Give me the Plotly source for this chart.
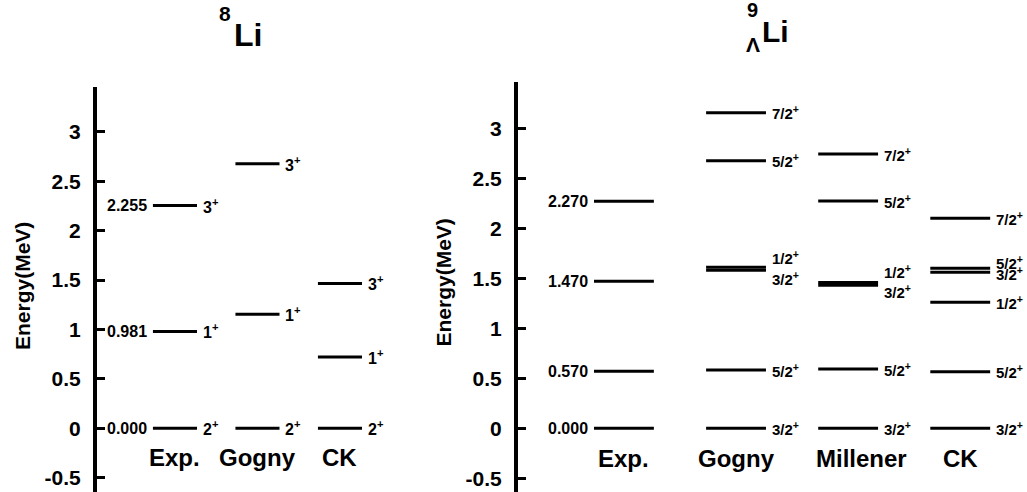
import plotly.graph_objects as go

# ---------------- data: 8Li ----------------
li8_columns = ["Exp.", "Gogny", "CK"]
li8_exp_energy = [0.000, 0.981, 2.255]
li8_exp_values = ["0.000", "0.981", "2.255"]
li8_exp_spin = ["2", "1", "3"]
li8_gogny_energy = [0.000, 1.155, 2.678]
li8_gogny_spin = ["2", "1", "3"]
li8_ck_energy = [0.000, 0.722, 1.466]
li8_ck_spin = ["2", "1", "3"]

# ---------------- data: 9ΛLi ----------------
li9_columns = ["Exp.", "Gogny", "Millener", "CK"]
li9_exp_energy = [0.000, 0.570, 1.470, 2.270]
li9_exp_values = ["0.000", "0.570", "1.470", "2.270"]
li9_gogny_energy = [0.000, 0.583, 1.580, 1.610, 2.676, 3.156]
li9_gogny_spin = ["3/2", "5/2", "3/2", "1/2", "5/2", "7/2"]
li9_millener_energy = [0.000, 0.593, 1.430, 1.458, 2.273, 2.743]
li9_millener_spin = ["3/2", "5/2", "3/2", "1/2", "5/2", "7/2"]
li9_ck_energy = [0.000, 0.566, 1.260, 1.560, 1.600, 2.100]
li9_ck_spin = ["3/2", "5/2", "1/2", "3/2", "5/2", "7/2"]

y_tick_values = [-0.5, 0, 0.5, 1, 1.5, 2, 2.5, 3]
y_tick_labels = ["-0.5", "0", "0.5", "1", "1.5", "2", "2.5", "3"]

# ---------------- style ----------------
W, H = 1027, 492
FONT = "Liberation Sans, Arial, Helvetica, sans-serif"
HALF = 0.267          # half length of a level line (column units)
LINE_W = 3
PAIR_NUDGE = {"Gogny": (10, -8), "Millener": (11, -6), "CK": (6, -1)}
CAT_XSHIFT = {"Millener": 13}


def px_x(px):
    return px / W


def px_y(py):
    return 1 - py / H


fig = go.Figure()
annotations = []


def add_panel(xr, yr, columns, levels, exp_values, spin_size, jp_shift):
    """levels: list of (energies, spins or None) per column"""
    for i, (energies, spins) in enumerate(levels):
        xs, ys = [], []
        for e in energies:
            xs += [i - HALF, i + HALF, None]
            ys += [e, e, None]
        fig.add_trace(go.Scatter(x=xs, y=ys, mode="lines", xaxis=xr, yaxis=yr,
                                 line=dict(color="black", width=LINE_W),
                                 hoverinfo="skip", showlegend=False))
        if spins is not None:
            for k, (e, s) in enumerate(zip(energies, spins)):
                shift = jp_shift
                above = [o for j, o in enumerate(energies) if j != k and 0 < o - e < 0.06]
                below = [o for j, o in enumerate(energies) if j != k and 0 < e - o < 0.06]
                if above:
                    shift += PAIR_NUDGE[columns[i]][1]
                elif below:
                    shift += PAIR_NUDGE[columns[i]][0]
                annotations.append(dict(
                    x=i + HALF, y=e, xref=xr, yref=yr, xanchor="left", yanchor="middle",
                    xshift=4, yshift=shift, showarrow=False,
                    text=f"{s}<sup>+</sup>",
                    font=dict(family=FONT, size=spin_size, color="black", weight="bold")))
        # category label
        annotations.append(dict(
            x=i, y=-0.30, xref=xr, yref=yr, xanchor="center", yanchor="middle",
            xshift=CAT_XSHIFT.get(columns[i], 0), showarrow=False, text=columns[i],
            font=dict(family=FONT, size=24, color="black", weight="bold")))
    # experimental values left of Exp. lines
    for e, v in zip(levels[0][0], exp_values):
        annotations.append(dict(
            x=-HALF, y=e, xref=xr, yref=yr, xanchor="right", yanchor="middle",
            xshift=-4, showarrow=False, text=v,
            font=dict(family=FONT, size=16, color="black", weight="bold")))


add_panel("x", "y", li8_columns,
          [(li8_exp_energy, li8_exp_spin), (li8_gogny_energy, li8_gogny_spin),
           (li8_ck_energy, li8_ck_spin)],
          li8_exp_values, 16, 0)

add_panel("x2", "y2", li9_columns,
          [(li9_exp_energy, None), (li9_gogny_energy, li9_gogny_spin),
           (li9_millener_energy, li9_millener_spin), (li9_ck_energy, li9_ck_spin)],
          li9_exp_values, 15, 0)

# titles
title_font = lambda s: dict(family=FONT, size=s, color="black", weight="bold")
annotations += [
    dict(x=px_x(225), y=px_y(14), xref="paper", yref="paper", text="8", showarrow=False,
         xanchor="center", yanchor="middle", font=title_font(21)),
    dict(x=px_x(247.5), y=px_y(35), xref="paper", yref="paper", text="Li", showarrow=False,
         xanchor="center", yanchor="middle", font=title_font(32)),
    dict(x=px_x(752), y=px_y(10), xref="paper", yref="paper", text="9", showarrow=False,
         xanchor="center", yanchor="middle", font=title_font(20)),
    dict(x=px_x(753), y=px_y(44), xref="paper", yref="paper", text="Λ", showarrow=False,
         xanchor="center", yanchor="middle", font=title_font(21)),
    dict(x=px_x(775.5), y=px_y(31.5), xref="paper", yref="paper", text="Li", showarrow=False,
         xanchor="center", yanchor="middle", font=title_font(30)),
    dict(x=px_x(22.5), y=px_y(286.5), xref="paper", yref="paper", text="Energy(MeV)",
         showarrow=False, textangle=-90, xanchor="center", yanchor="middle",
         font=title_font(21)),
    dict(x=px_x(442.5), y=px_y(283), xref="paper", yref="paper", text="Energy(MeV)",
         showarrow=False, textangle=-90, xanchor="center", yanchor="middle",
         font=title_font(21)),
]

yaxis_common = dict(
    tickvals=y_tick_values, ticktext=y_tick_labels,
    ticks="inside", ticklen=8, tickwidth=3, tickcolor="black",
    showline=True, linewidth=4, linecolor="black",
    showgrid=False, zeroline=False, ticklabelstandoff=8,
    tickfont=dict(family=FONT, size=21, color="black", weight="bold"),
)

fig.update_layout(
    width=W, height=H, autosize=False,
    margin=dict(l=0, r=0, t=0, b=0, pad=0),
    paper_bgcolor="white", plot_bgcolor="white",
    showlegend=False,
    xaxis=dict(domain=[px_x(97), px_x(471)], range=[-0.945, -0.945 + (471 - 97) / 82.5],
               visible=False),
    yaxis=dict(domain=[0, px_y(87)], range=[-(492 - 428.3) / 98.8, (428.3 - 87) / 98.8],
               anchor="x", **yaxis_common),
    xaxis2=dict(domain=[px_x(518), 1.0], range=[-0.945, -0.945 + (1027 - 518) / 112.1],
                visible=False),
    yaxis2=dict(domain=[0, px_y(82)], range=[-(492 - 428.3) / 100.0, (428.3 - 82) / 100.0],
                anchor="x2", **yaxis_common),
    annotations=annotations,
)

fig.write_html("out.html",
               config={"displayModeBar": False},
               post_script="document.body.style.margin='0';"
                           "document.body.style.overflow='hidden';")
